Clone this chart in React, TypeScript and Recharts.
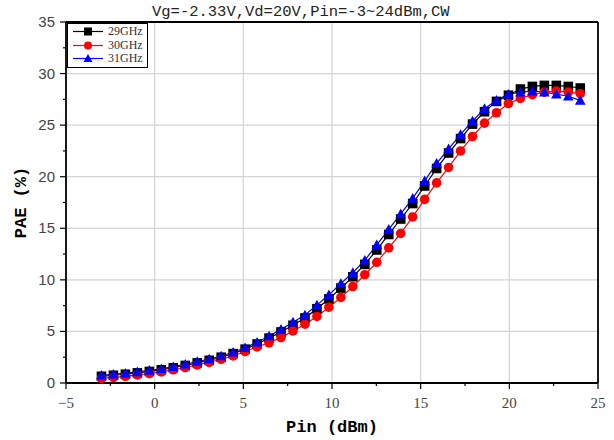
import {
  LineChart, Line, XAxis, YAxis, ReferenceLine, Legend,
} from 'recharts'

const pin = [
  -3, -2.325, -1.65, -0.975, -0.3, 0.375, 1.05, 1.725, 2.4, 3.075,
  3.75, 4.425, 5.1, 5.775, 6.45, 7.125, 7.8, 8.475, 9.15, 9.825,
  10.5, 11.175, 11.85, 12.525, 13.2, 13.875, 14.55, 15.225, 15.9, 16.575,
  17.25, 17.925, 18.6, 19.275, 19.95, 20.625, 21.3, 21.975, 22.65, 23.325, 24,
]

const pae29 = [
  0.65, 0.75, 0.85, 0.98, 1.12, 1.28, 1.48, 1.7, 1.95, 2.2,
  2.5, 2.85, 3.28, 3.78, 4.35, 4.95, 5.6, 6.3, 7.2, 8.15,
  9.2, 10.3, 11.5, 12.9, 14.4, 15.9, 17.4, 19.1, 20.8, 22.3,
  23.7, 25.1, 26.3, 27.3, 27.9, 28.5, 28.75, 28.85, 28.85, 28.75, 28.6,
]

const pae30 = [
  0.45, 0.55, 0.65, 0.78, 0.92, 1.08, 1.28, 1.5, 1.75, 2.0,
  2.3, 2.62, 3.05, 3.5, 3.9, 4.4, 5.05, 5.7, 6.45, 7.35,
  8.3, 9.35, 10.5, 11.7, 13.1, 14.5, 16.1, 17.8, 19.4, 20.9,
  22.5, 23.9, 25.2, 26.2, 27.1, 27.6, 27.95, 28.2, 28.3, 28.2, 28.05,
]

const pae31 = [
  0.75, 0.85, 0.95, 1.08, 1.22, 1.38, 1.58, 1.82, 2.08, 2.33,
  2.62, 2.98, 3.42, 3.95, 4.55, 5.2, 5.9, 6.6, 7.55, 8.55,
  9.65, 10.7, 11.9, 13.4, 14.9, 16.4, 17.9, 19.6, 21.3, 22.7,
  24.1, 25.4, 26.6, 27.4, 28.0, 28.2, 28.3, 28.2, 28.0, 27.8, 27.4,
]

const xTicks = [-5, -2.5, 0, 2.5, 5, 7.5, 10, 12.5, 15, 17.5, 20, 22.5, 25]
const yTicks = [0, 2.5, 5, 7.5, 10, 12.5, 15, 17.5, 20, 22.5, 25, 27.5, 30, 32.5, 35]
const xGrid = [0, 5, 10, 15, 20]
const yGrid = [5, 10, 15, 20, 25, 30]

const series = [
  { key: 'f29', name: '29GHz', color: '#000000', shape: 'square' },
  { key: 'f30', name: '30GHz', color: '#ff0000', shape: 'circle' },
  { key: 'f31', name: '31GHz', color: '#0000ff', shape: 'triangle' },
]

const data = pin.map((p, i) => ({ pin: p, f29: pae29[i], f30: pae30[i], f31: pae31[i] }))

function Marker({ cx, cy, shape, color, r = 4.8 }: any) {
  if (cx == null || cy == null) return null
  if (shape === 'square') {
    return <rect x={cx - r} y={cy - r} width={r * 2} height={r * 2} fill={color} />
  }
  if (shape === 'circle') {
    return <circle cx={cx} cy={cy} r={r} fill={color} />
  }
  return (
    <polygon
      points={`${cx},${cy - r - 0.5} ${cx - r - 0.5},${cy + r - 0.5} ${cx + r + 0.5},${cy + r - 0.5}`}
      fill={color}
    />
  )
}

const isMajor = (v: number) => v % 5 === 0

function XTick({ x, y, payload }: any) {
  const major = isMajor(payload.value)
  return (
    <g>
      <line x1={x} y1={y - 8} x2={x} y2={y - 8 + (major ? 6 : 3)} stroke="#000" strokeWidth={1.2} />
      {major && (
        <text x={x} y={y + 17} textAnchor="middle" fontSize={15} fill="#444"
          fontFamily="'Liberation Serif', serif">
          {payload.value < 0 ? `\u2212${Math.abs(payload.value)}` : payload.value}
        </text>
      )}
    </g>
  )
}

function YTick({ x, y, payload }: any) {
  const major = isMajor(payload.value)
  return (
    <g>
      <line x1={x + 8} y1={y} x2={x + 8 - (major ? 6 : 3)} y2={y} stroke="#000" strokeWidth={1.2} />
      {major && (
        <text x={x - 3} y={y + 5} textAnchor="end" fontSize={15} fill="#444"
          fontFamily="'Liberation Sans', sans-serif">
          {payload.value}
        </text>
      )}
    </g>
  )
}

function LegendBox() {
  return (
    <div style={{
      border: '1px solid #000', background: '#fff', padding: '1px 4px 1px 3px',
      fontFamily: "'Liberation Serif', serif", fontSize: 12, lineHeight: '13.5px', color: '#333',
    }}>
      {series.map(s => (
        <div key={s.key} style={{ display: 'flex', alignItems: 'center' }}>
          <svg width={34} height={13}>
            <line x1={2} y1={6.5} x2={32} y2={6.5} stroke={s.color} strokeWidth={1.2} />
            <Marker cx={17} cy={6.5} shape={s.shape} color={s.color} r={4} />
          </svg>
          <span style={{ marginLeft: 3 }}>{s.name}</span>
        </div>
      ))}
    </div>
  )
}

export default function App() {
  return (
    <div style={{ position: 'absolute', left: 0, top: 0, width: 614, height: 440, background: '#fff' }}>
      <LineChart width={614} height={440} data={data}
        margin={{ top: 22, right: 16, left: 0, bottom: 0 }}>
        {xGrid.map(v => (
          <ReferenceLine key={`gx${v}`} x={v} stroke="#d4d4d4" strokeWidth={1.2} />
        ))}
        {yGrid.map(v => (
          <ReferenceLine key={`gy${v}`} y={v} stroke="#d4d4d4" strokeWidth={1.2} />
        ))}
        <ReferenceLine x={25} stroke="#000" strokeWidth={1.8} />
        <ReferenceLine y={35} stroke="#000" strokeWidth={1.8} />
        <XAxis
          dataKey="pin" type="number" domain={[-5, 25]} ticks={xTicks}
          interval={0} allowDataOverflow height={57}
          axisLine={{ stroke: '#000', strokeWidth: 1.8 }} tickLine={false}
          tick={<XTick />}
          label={{
            value: 'Pin (dBm)', position: 'insideBottom', offset: 8,
            style: { fontFamily: "'Liberation Mono', monospace", fontWeight: 'bold', fontSize: 17, fill: '#000' },
          }}
        />
        <YAxis
          type="number" domain={[0, 35]} ticks={yTicks} interval={0} width={66}
          axisLine={{ stroke: '#000', strokeWidth: 1.8 }} tickLine={false}
          tick={<YTick />}
          label={{
            value: 'PAE (%)', angle: -90, position: 'insideLeft', offset: 20,
            style: { fontFamily: "'Liberation Mono', monospace", fontWeight: 'bold', fontSize: 17, fill: '#000', textAnchor: 'middle' },
          }}
        />
        <Legend
          layout="vertical" align="center" verticalAlign="middle"
          wrapperStyle={{ left: 67, top: 23, width: 'auto' }}
          content={() => <LegendBox />}
        />
        {series.map(s => (
          <Line
            key={s.key} dataKey={s.key} name={s.name} type="linear"
            stroke={s.color} strokeWidth={1.2} isAnimationActive={false}
            dot={(p: any) => <Marker key={`${s.key}-${p.index}`} cx={p.cx} cy={p.cy} shape={s.shape} color={s.color} />}
            activeDot={false}
          />
        ))}
      </LineChart>
      <div style={{
        position: 'absolute', left: 152, top: 3, whiteSpace: 'nowrap',
        fontFamily: "'Liberation Mono', monospace", fontSize: 15.5, color: '#222',
      }}>
        Vg=-2.33V,Vd=20V,Pin=-3~24dBm,CW
      </div>
    </div>
  )
}
